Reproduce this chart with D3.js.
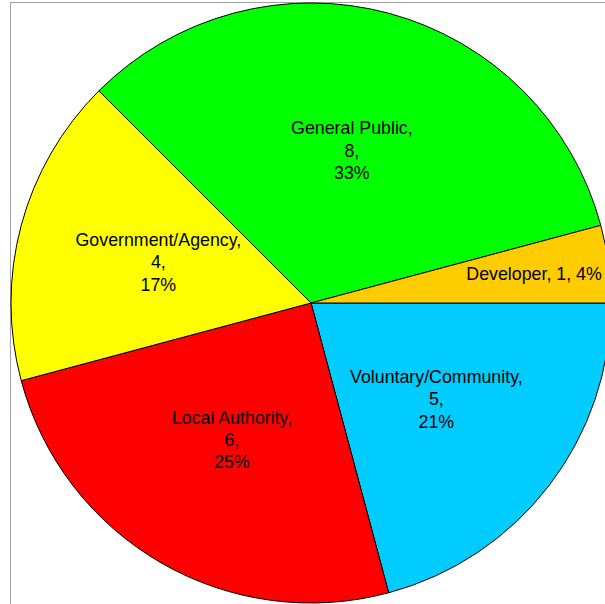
<!DOCTYPE html>
<meta charset="utf-8">
<title>Respondents by type</title>
<style>
body { margin: 0; background: #fff; }
text { font-family: "Liberation Sans", Arial, sans-serif; font-size: 17.8px; fill: #000; }
</style>
<script src="https://d3js.org/d3.v7.min.js"></script>
<div id="chart"></div>
<script>

// categories in drawing order, clockwise from 3 o'clock
var categories = ["Voluntary/Community", "Local Authority", "Government/Agency", "General Public", "Developer"];
var counts = [5, 6, 4, 8, 1];
var percents = ["21%", "25%", "17%", "33%", "4%"];
var colors = ["#00ccff", "#ff0000", "#ffff00", "#00ff00", "#ffcc00"];

var width = 605, height = 604;
var cx = 311, cy = 303, radius = 300;

var svg = d3.select("#chart")
  .append("svg")
    .attr("width", width)
    .attr("height", height);

// plot area frame (runs off the right and bottom edges)
svg.append("rect")
  .attr("x", 10.5)
  .attr("y", 2.5)
  .attr("width", 700)
  .attr("height", 700)
  .attr("fill", "none")
  .attr("stroke", "#a0a0a0")
  .attr("stroke-width", 1);

var data = categories.map(function(c, i) {
  return {name: c, value: counts[i], pct: percents[i], color: colors[i]};
});

var pie = d3.pie()
  .value(function(d) { return d.value; })
  .sort(null)
  .startAngle(Math.PI / 2)
  .endAngle(Math.PI / 2 + 2 * Math.PI);

var arc = d3.arc().innerRadius(0).outerRadius(radius);
var labelArc = d3.arc().innerRadius(158).outerRadius(158);
var outerLabelArc = d3.arc().innerRadius(225).outerRadius(225);

var g = svg.append("g")
  .attr("transform", "translate(" + cx + "," + cy + ")");

var arcs = pie(data);

g.selectAll("path")
  .data(arcs)
  .enter()
  .append("path")
    .attr("d", arc)
    .attr("fill", function(d) { return d.data.color; })
    .attr("stroke", "#000")
    .attr("stroke-width", 1);

// labels: small slices get a single line further out
arcs.forEach(function(d) {
  var small = d.data.value / d3.sum(counts) < 0.1;
  var p = small ? outerLabelArc.centroid(d) : labelArc.centroid(d);
  var t = g.append("text")
    .attr("text-anchor", "middle")
    .attr("x", p[0])
    .attr("y", p[1]);
  if (small) {
    t.attr("dy", "0.35em")
      .text(d.data.name + ", " + d.data.value + ", " + d.data.pct);
  } else {
    var lines = [d.data.name + ",", d.data.value + ",", d.data.pct];
    lines.forEach(function(s, i) {
      t.append("tspan")
        .attr("x", p[0])
        .attr("y", p[1])
        .attr("dy", (0.35 + (i - 1) * 1.26) + "em")
        .text(s);
    });
  }
});

</script>
